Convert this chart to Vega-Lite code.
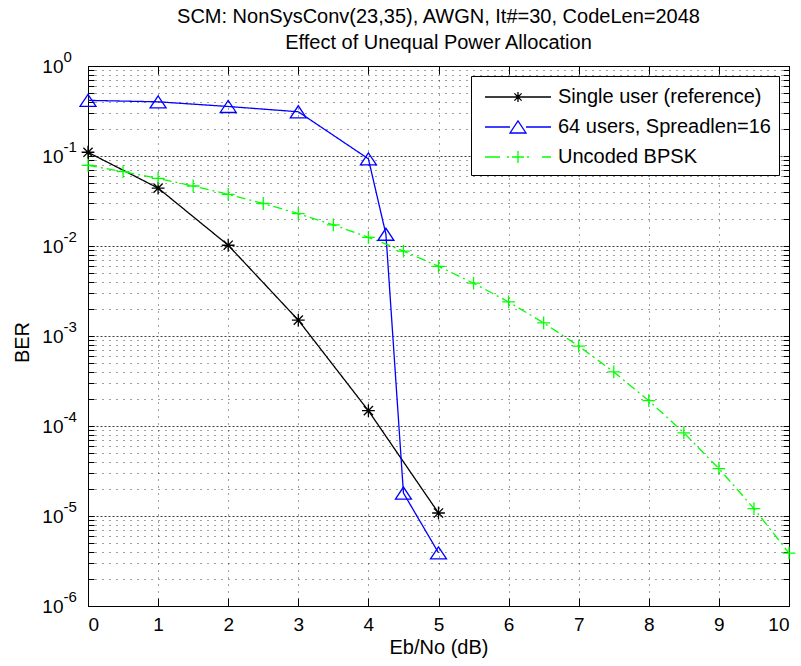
{
  "$schema": "https://vega.github.io/schema/vega-lite/v6.json",
  "autosize": "none",
  "padding": {"left": 88, "top": 66, "right": 12, "bottom": 60},
  "width": 701,
  "height": 540,
  "background": "white",
  "config": {
    "view": {"stroke": null},
    "font": "Liberation Sans"
  },
  "title": {
    "text": ["SCM: NonSysConv(23,35), AWGN, It#=30, CodeLen=2048", "Effect of Unequal Power Allocation"],
    "font": "Liberation Sans",
    "fontSize": 20,
    "fontWeight": "normal",
    "color": "black",
    "lineHeight": 26,
    "anchor": "middle",
    "offset": -4
  },
  "data": {
    "values": [
      {"s": "Single user (reference)", "x": 0, "ber": 0.11},
      {"s": "Single user (reference)", "x": 1, "ber": 0.044},
      {"s": "Single user (reference)", "x": 2, "ber": 0.0102},
      {"s": "Single user (reference)", "x": 3, "ber": 0.0015},
      {"s": "Single user (reference)", "x": 4, "ber": 0.000148},
      {"s": "Single user (reference)", "x": 5, "ber": 0.0000108},
      {"s": "64 users, Spreadlen=16", "x": 0, "ber": 0.415},
      {"s": "64 users, Spreadlen=16", "x": 1, "ber": 0.40},
      {"s": "64 users, Spreadlen=16", "x": 2, "ber": 0.355},
      {"s": "64 users, Spreadlen=16", "x": 3, "ber": 0.31},
      {"s": "64 users, Spreadlen=16", "x": 4, "ber": 0.093},
      {"s": "64 users, Spreadlen=16", "x": 4.25, "ber": 0.0135},
      {"s": "64 users, Spreadlen=16", "x": 4.5, "ber": 0.000018},
      {"s": "64 users, Spreadlen=16", "x": 5, "ber": 0.0000039},
      {"s": "Uncoded BPSK", "x": 0, "ber": 0.07865},
      {"s": "Uncoded BPSK", "x": 0.5, "ber": 0.06706},
      {"s": "Uncoded BPSK", "x": 1, "ber": 0.05628},
      {"s": "Uncoded BPSK", "x": 1.5, "ber": 0.0464},
      {"s": "Uncoded BPSK", "x": 2, "ber": 0.03751},
      {"s": "Uncoded BPSK", "x": 2.5, "ber": 0.02965},
      {"s": "Uncoded BPSK", "x": 3, "ber": 0.02288},
      {"s": "Uncoded BPSK", "x": 3.5, "ber": 0.01717},
      {"s": "Uncoded BPSK", "x": 4, "ber": 0.0125},
      {"s": "Uncoded BPSK", "x": 4.5, "ber": 0.00879},
      {"s": "Uncoded BPSK", "x": 5, "ber": 0.00595},
      {"s": "Uncoded BPSK", "x": 5.5, "ber": 0.00386},
      {"s": "Uncoded BPSK", "x": 6, "ber": 0.00239},
      {"s": "Uncoded BPSK", "x": 6.5, "ber": 0.0014},
      {"s": "Uncoded BPSK", "x": 7, "ber": 0.000773},
      {"s": "Uncoded BPSK", "x": 7.5, "ber": 0.000399},
      {"s": "Uncoded BPSK", "x": 8, "ber": 0.000191},
      {"s": "Uncoded BPSK", "x": 8.5, "ber": 0.000084},
      {"s": "Uncoded BPSK", "x": 9, "ber": 0.0000336},
      {"s": "Uncoded BPSK", "x": 9.5, "ber": 0.0000121},
      {"s": "Uncoded BPSK", "x": 10, "ber": 0.00000387}
    ]
  },
  "resolve": {
    "scale": {"color": "independent", "shape": "independent", "strokeDash": "independent"},
    "axis": {"x": "independent", "y": "independent"}
  },
  "layer": [
    {
      "mark": {"type": "line", "strokeWidth": 1.3, "clip": true},
      "encoding": {
        "x": {
          "field": "x", "type": "quantitative",
          "scale": {"domain": [0, 10], "nice": false, "zero": false},
          "axis": {
            "orient": "bottom",
            "values": [0, 1, 2, 3, 4, 5, 6, 7, 8, 9, 10],
            "format": "d",
            "labelFont": "Liberation Sans", "labelFontSize": 19, "labelColor": "black",
            "labelPadding": 17,
            "domainColor": "black", "domainWidth": 1,
            "tickColor": "black", "tickSize": -8, "tickWidth": 1,
            "grid": true, "gridColor": "#000", "gridOpacity": 0.75, "gridDash": [1, 6], "gridWidth": 1,
            "title": "Eb/No (dB)",
            "titleFont": "Liberation Sans", "titleFontSize": 20, "titleFontWeight": "normal", "titleColor": "black",
            "titleBaseline": "alphabetic", "titleY": 47
          }
        },
        "y": {
          "field": "ber", "type": "quantitative",
          "scale": {"type": "log", "domain": [0.000001, 1], "nice": false},
          "axis": {
            "orient": "left",
            "values": [1e-6, 2e-6, 3e-6, 4e-6, 5e-6, 6e-6, 7e-6, 8e-6, 9e-6,
                       1e-5, 2e-5, 3e-5, 4e-5, 5e-5, 6e-5, 7e-5, 8e-5, 9e-5,
                       1e-4, 2e-4, 3e-4, 4e-4, 5e-4, 6e-4, 7e-4, 8e-4, 9e-4,
                       0.001, 0.002, 0.003, 0.004, 0.005, 0.006, 0.007, 0.008, 0.009,
                       0.01, 0.02, 0.03, 0.04, 0.05, 0.06, 0.07, 0.08, 0.09,
                       0.1, 0.2, 0.3, 0.4, 0.5, 0.6, 0.7, 0.8, 0.9, 1],
            "labelExpr": "abs(log(datum.value)/LN10 - round(log(datum.value)/LN10)) < 0.001 ? '10' : ''",
            "labelOverlap": false,
            "labelAlign": "right",
            "labelFont": "Liberation Sans", "labelFontSize": 19, "labelColor": "black",
            "labelPadding": 31,
            "domainColor": "black", "domainWidth": 1,
            "tickColor": "black", "tickWidth": 1,
            "tickSize": -6,
            "grid": true, "gridColor": "#000", "gridOpacity": 0.75, "gridWidth": 1,
            "gridDash": {"condition": {"test": "abs(log(datum.value)/LN10 - round(log(datum.value)/LN10)) < 0.001", "value": [2, 2]}, "value": [1, 6]},
            "title": "BER",
            "titleFont": "Liberation Sans", "titleFontSize": 20, "titleFontWeight": "normal", "titleColor": "black",
            "titleAngle": -90, "titleBaseline": "middle", "titleX": -66, "titleY": 276
          }
        },
        "color": {
          "field": "s", "type": "nominal", "legend": null,
          "scale": {"domain": ["Single user (reference)", "64 users, Spreadlen=16", "Uncoded BPSK"], "range": ["#000000", "#0000ff", "#00ff00"]}
        },
        "strokeDash": {
          "field": "s", "type": "nominal", "legend": null,
          "scale": {"domain": ["Single user (reference)", "64 users, Spreadlen=16", "Uncoded BPSK"], "range": [[1, 0], [1, 0], [9, 4, 2, 4]]}
        }
      }
    },
    {
      "mark": {"type": "point", "filled": false, "strokeWidth": 1.3, "size": 64, "opacity": 1},
      "encoding": {
        "x": {
          "field": "x", "type": "quantitative",
          "axis": {
            "orient": "top", "values": [0, 1, 2, 3, 4, 5, 6, 7, 8, 9, 10],
            "labels": false, "title": null, "grid": false,
            "domainColor": "black", "domainWidth": 1,
            "tickColor": "black", "tickSize": -8, "tickWidth": 1
          }
        },
        "y": {
          "field": "ber", "type": "quantitative",
          "axis": {
            "orient": "right",
            "values": [1e-6, 2e-6, 3e-6, 4e-6, 5e-6, 6e-6, 7e-6, 8e-6, 9e-6,
                       1e-5, 2e-5, 3e-5, 4e-5, 5e-5, 6e-5, 7e-5, 8e-5, 9e-5,
                       1e-4, 2e-4, 3e-4, 4e-4, 5e-4, 6e-4, 7e-4, 8e-4, 9e-4,
                       0.001, 0.002, 0.003, 0.004, 0.005, 0.006, 0.007, 0.008, 0.009,
                       0.01, 0.02, 0.03, 0.04, 0.05, 0.06, 0.07, 0.08, 0.09,
                       0.1, 0.2, 0.3, 0.4, 0.5, 0.6, 0.7, 0.8, 0.9, 1],
            "labels": false, "title": null, "grid": false,
            "domainColor": "black", "domainWidth": 1,
            "tickColor": "black", "tickWidth": 1,
            "tickSize": -6
          }
        },
        "color": {
          "field": "s", "type": "nominal", "legend": null,
          "scale": {"domain": ["Single user (reference)", "64 users, Spreadlen=16", "Uncoded BPSK"], "range": ["#000000", "#0000ff", "#00ff00"]}
        },
        "shape": {
          "field": "s", "type": "nominal", "legend": null,
          "scale": {
            "domain": ["Single user (reference)", "64 users, Spreadlen=16", "Uncoded BPSK"],
            "range": [
              "M-1.6,0L1.6,0M0,-1.6L0,1.6M-1.15,-1.15L1.15,1.15M-1.15,1.15L1.15,-1.15",
              "M-2,1.5L2,1.5L0,-1.5Z",
              "M-1.6,0L1.6,0M0,-1.6L0,1.6"
            ]
          }
        }
      }
    },
    {
      "transform": [{"filter": "datum.x > 100"}],
      "mark": {"type": "point", "filled": false, "strokeWidth": 1.3, "opacity": 1},
      "encoding": {
        "y": {
          "field": "ber", "type": "quantitative",
          "axis": {
            "orient": "left",
            "values": [1e-6, 1e-5, 1e-4, 0.001, 0.01, 0.1, 1],
            "labelExpr": "'-' + (-round(log(datum.value)/LN10)) == '-0' ? '0' : '-' + (-round(log(datum.value)/LN10))",
            "labelOverlap": false,
            "labelAlign": "left",
            "labelBaseline": "middle",
            "labelFont": "Liberation Sans", "labelFontSize": 15, "labelColor": "black",
            "labelPadding": 25,
            "labelOffset": -10,
            "ticks": false, "domain": false, "grid": false, "title": null
          }
        },
        "color": {
          "field": "s", "type": "nominal",
          "scale": {"domain": ["Single user (reference)", "64 users, Spreadlen=16", "Uncoded BPSK"], "range": ["#000000", "#0000ff", "#00ff00"]},
          "legend": {
            "orient": "top-right", "offset": 10, "title": null,
            "padding": 8, "rowPadding": 7,
            "strokeColor": "black", "fillColor": "white", "cornerRadius": 0,
            "labelFont": "Liberation Sans", "labelFontSize": 20, "labelColor": "black", "labelLimit": 500,
            "labelOffset": 53, "symbolSize": 576, "symbolStrokeWidth": 1.3
          }
        },
        "shape": {
          "field": "s", "type": "nominal",
          "scale": {
            "domain": ["Single user (reference)", "64 users, Spreadlen=16", "Uncoded BPSK"],
            "range": [
              "M-0.583,0L4.917,0M1.747,0L2.587,0M2.167,-0.42L2.167,0.42M1.867,-0.3L2.467,0.3M1.867,0.3L2.467,-0.3",
              "M-0.583,0L1.5,0M2.833,0L4.917,0M1.5,0.5L2.833,0.5L2.167,-0.5Z",
              "M-0.583,0L0.667,0M1.25,0L1.417,0M1.667,0L2.667,0M2.167,-0.5L2.167,0.5M2.917,0L3.083,0M4.167,0L4.917,0"
            ]
          },
          "legend": {
            "orient": "top-right", "offset": 10, "title": null,
            "padding": 8, "rowPadding": 7,
            "strokeColor": "black", "fillColor": "white", "cornerRadius": 0,
            "labelFont": "Liberation Sans", "labelFontSize": 20, "labelColor": "black", "labelLimit": 500,
            "labelOffset": 53, "symbolSize": 576, "symbolStrokeWidth": 1.3
          }
        }
      }
    }
  ]
}
